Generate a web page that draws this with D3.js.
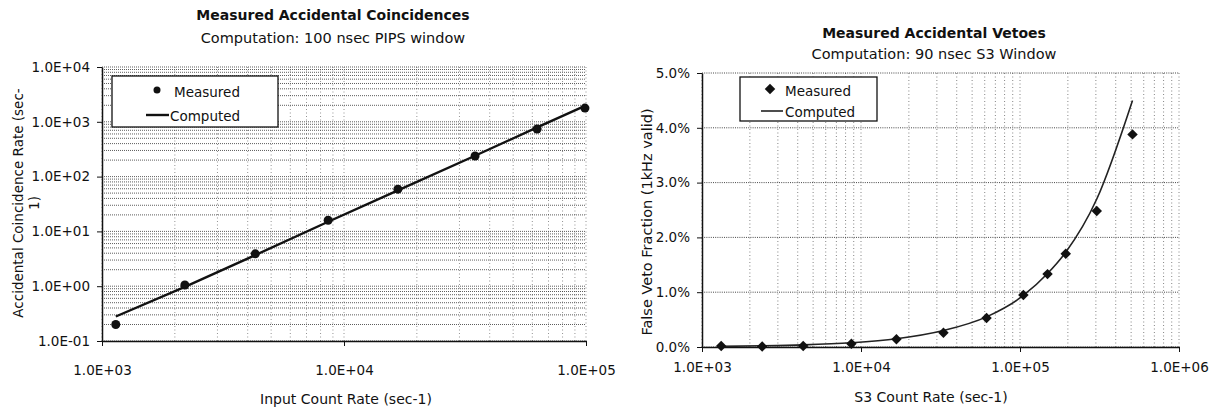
<!DOCTYPE html>
<html>
<head>
<meta charset="utf-8">
<script src="https://cdn.jsdelivr.net/npm/d3@7"></script>
<style>
  html, body { margin: 0; padding: 0; background: #fff; }
  svg { display: block; font-family: "DejaVu Sans", sans-serif; }
  text { fill: #111; }
</style>
</head>
<body>
<svg id="chart" width="1212" height="410"></svg>
<script>
// ---------- Left chart data ----------
const leftTitle = "Measured Accidental Coincidences";
const leftSubtitle = "Computation: 100 nsec PIPS window";
const leftXLabel = "Input Count Rate (sec-1)";
const leftYLabel1 = "Accidental Coincidence Rate (sec-";
const leftYLabel2 = "1)";
const leftInputRate = [1140, 2200, 4300, 8600, 16700, 34800, 62800, 99000];
const leftMeasured = [0.20, 1.05, 3.9, 16, 59, 238, 740, 1780];
const leftComputed = [0.28, 0.97, 3.7, 15, 56, 240, 790, 1960];
const leftXTicks = [1e3, 1e4, 1e5];
const leftXTickLabels = ["1.0E+03", "1.0E+04", "1.0E+05"];
const leftYTicks = [1e-1, 1e0, 1e1, 1e2, 1e3, 1e4];
const leftYTickLabels = ["1.0E-01", "1.0E+00", "1.0E+01", "1.0E+02", "1.0E+03", "1.0E+04"];

// ---------- Right chart data ----------
const rightTitle = "Measured Accidental Vetoes";
const rightSubtitle = "Computation: 90 nsec S3 Window";
const rightXLabel = "S3 Count Rate (sec-1)";
const rightYLabel = "False Veto Fraction (1kHz valid)";
const rightS3Rate = [1320, 2390, 4330, 8700, 16700, 33000, 61600, 105000, 149000, 194000, 304000, 510000];
const rightMeasured = [0.02, 0.01, 0.02, 0.06, 0.14, 0.26, 0.53, 0.95, 1.33, 1.70, 2.48, 3.88];
const rightComputed = [0.012, 0.022, 0.039, 0.078, 0.15, 0.30, 0.55, 0.94, 1.34, 1.73, 2.70, 4.50];
const rightXTicks = [1e3, 1e4, 1e5, 1e6];
const rightXTickLabels = ["1.0E+03", "1.0E+04", "1.0E+05", "1.0E+06"];
const rightYTicks = [0, 1, 2, 3, 4, 5];
const rightYTickLabels = ["0.0%", "1.0%", "2.0%", "3.0%", "4.0%", "5.0%"];
const legendLabels = ["Measured", "Computed"];

const svg = d3.select("#chart");
const ink = "#111";

// ================= LEFT CHART =================
const L = { left: 102, right: 586, top: 67, bottom: 341 };
const xL = d3.scaleLog().domain([1e3, 1e5]).range([L.left, L.right]);
const yL = d3.scaleLog().domain([1e-1, 1e4]).range([L.bottom, L.top]);
const gL = svg.append("g");

// grid
gL.append("g").selectAll("line").data(xL.ticks()).join("line")
  .attr("x1", d => xL(d)).attr("x2", d => xL(d))
  .attr("y1", L.top).attr("y2", L.bottom)
  .attr("stroke", "#777").attr("stroke-width", 0.8).attr("stroke-dasharray", "1,2.5");
gL.append("g").selectAll("line").data(yL.ticks()).join("line")
  .attr("x1", L.left).attr("x2", L.right)
  .attr("y1", d => yL(d)).attr("y2", d => yL(d))
  .attr("stroke", "#333").attr("stroke-width", 0.8).attr("stroke-dasharray", "1,1");

// axes
const axL = gL.append("g").attr("transform", `translate(${L.left},0)`)
  .call(d3.axisLeft(yL).tickValues(leftYTicks).tickFormat((d, i) => leftYTickLabels[i])
    .tickSize(5).tickPadding(7).tickSizeOuter(0));
const axB = gL.append("g").attr("transform", `translate(0,${L.bottom})`)
  .call(d3.axisBottom(xL).tickValues(leftXTicks).tickFormat((d, i) => leftXTickLabels[i])
    .tickSize(5).tickPadding(19).tickSizeOuter(0));
[axL, axB].forEach(a => {
  a.selectAll("text").attr("font-size", "13.5px").attr("fill", ink).attr("font-family", "DejaVu Sans");
  a.selectAll("line").attr("stroke", ink);
  a.select(".domain").attr("stroke", ink).attr("stroke-width", 1.5);
});

// computed line
gL.append("path")
  .datum(leftInputRate.map((x, i) => [x, leftComputed[i]]))
  .attr("fill", "none").attr("stroke", "#111").attr("stroke-width", 2.4)
  .attr("d", d3.line().x(d => xL(d[0])).y(d => yL(d[1])));
// measured points
gL.append("g").selectAll("circle")
  .data(leftInputRate.map((x, i) => [x, leftMeasured[i]])).join("circle")
  .attr("cx", d => xL(d[0])).attr("cy", d => yL(d[1])).attr("r", 4.5).attr("fill", "#111");

// titles
gL.append("text").attr("x", 333).attr("y", 20).attr("text-anchor", "middle")
  .attr("font-size", "14px").attr("font-weight", "bold").text(leftTitle);
gL.append("text").attr("x", 333).attr("y", 43).attr("text-anchor", "middle")
  .attr("font-size", "14.5px").text(leftSubtitle);
gL.append("text").attr("x", 346).attr("y", 404).attr("text-anchor", "middle")
  .attr("font-size", "14px").text(leftXLabel);
gL.append("text").attr("transform", "translate(23,203) rotate(-90)").attr("text-anchor", "middle")
  .attr("font-size", "13.5px").text(leftYLabel1);
gL.append("text").attr("transform", "translate(39,203) rotate(-90)").attr("text-anchor", "middle")
  .attr("font-size", "13.5px").text(leftYLabel2);

// legend
const lgL = gL.append("g");
lgL.append("rect").attr("x", 112).attr("y", 76).attr("width", 166).attr("height", 51)
  .attr("fill", "#fff").attr("stroke", ink).attr("stroke-width", 1.3);
lgL.append("circle").attr("cx", 157).attr("cy", 90).attr("r", 3.5).attr("fill", "#111");
lgL.append("text").attr("x", 174).attr("y", 97).attr("font-size", "13.5px").text(legendLabels[0]);
lgL.append("line").attr("x1", 146).attr("x2", 169).attr("y1", 115).attr("y2", 115)
  .attr("stroke", "#111").attr("stroke-width", 2.4);
lgL.append("text").attr("x", 170).attr("y", 121).attr("font-size", "13.5px").text(legendLabels[1]);

// ================= RIGHT CHART =================
const R = { left: 702, right: 1179, top: 73, bottom: 347 };
const xR = d3.scaleLog().domain([1e3, 1e6]).range([R.left, R.right]);
const yR = d3.scaleLinear().domain([0, 5]).range([R.bottom, R.top]);
const gR = svg.append("g");

gR.append("g").selectAll("line").data(xR.ticks()).join("line")
  .attr("x1", d => xR(d)).attr("x2", d => xR(d))
  .attr("y1", R.top).attr("y2", R.bottom)
  .attr("stroke", "#666").attr("stroke-width", 0.8).attr("stroke-dasharray", "1,2.5");
gR.append("g").selectAll("line").data(rightYTicks).join("line")
  .attr("x1", R.left).attr("x2", R.right)
  .attr("y1", d => yR(d)).attr("y2", d => yR(d))
  .attr("stroke", "#333").attr("stroke-width", 0.9).attr("stroke-dasharray", "1,1.2");

const axRL = gR.append("g").attr("transform", `translate(${R.left},0)`)
  .call(d3.axisLeft(yR).tickValues(rightYTicks).tickFormat((d, i) => rightYTickLabels[i])
    .tickSize(5).tickPadding(7).tickSizeOuter(0));
const axRB = gR.append("g").attr("transform", `translate(0,${R.bottom})`)
  .call(d3.axisBottom(xR).tickValues(rightXTicks).tickFormat((d, i) => rightXTickLabels[i])
    .tickSize(5).tickPadding(10).tickSizeOuter(0));
[axRL, axRB].forEach(a => {
  a.selectAll("text").attr("font-size", "13.5px").attr("fill", ink).attr("font-family", "DejaVu Sans");
  a.selectAll("line").attr("stroke", ink);
  a.select(".domain").attr("stroke", ink).attr("stroke-width", 1.5);
});

gR.append("path")
  .datum(rightS3Rate.map((x, i) => [x, rightComputed[i]]))
  .attr("fill", "none").attr("stroke", "#222").attr("stroke-width", 1.6)
  .attr("d", d3.line().curve(d3.curveMonotoneX).x(d => xR(d[0])).y(d => yR(d[1])));
const diamond = d3.symbol().type(d3.symbolDiamond2).size(70);
gR.append("g").selectAll("path")
  .data(rightS3Rate.map((x, i) => [x, rightMeasured[i]])).join("path")
  .attr("transform", d => `translate(${xR(d[0])},${yR(d[1])})`)
  .attr("d", diamond).attr("fill", "#111");

gR.append("text").attr("x", 934).attr("y", 38).attr("text-anchor", "middle")
  .attr("font-size", "14px").attr("font-weight", "bold").text(rightTitle);
gR.append("text").attr("x", 934).attr("y", 59).attr("text-anchor", "middle")
  .attr("font-size", "14.5px").text(rightSubtitle);
gR.append("text").attr("x", 931).attr("y", 402).attr("text-anchor", "middle")
  .attr("font-size", "14px").text(rightXLabel);
gR.append("text").attr("transform", "translate(652,222) rotate(-90)").attr("text-anchor", "middle")
  .attr("font-size", "14.5px").text(rightYLabel);

const lgR = gR.append("g");
lgR.append("rect").attr("x", 740).attr("y", 77).attr("width", 137).attr("height", 44)
  .attr("fill", "#fff").attr("stroke", ink).attr("stroke-width", 1.3);
lgR.append("path").attr("transform", "translate(770,89)").attr("d", diamond).attr("fill", "#111");
lgR.append("text").attr("x", 785).attr("y", 96).attr("font-size", "13.5px").text(legendLabels[0]);
lgR.append("line").attr("x1", 761).attr("x2", 783).attr("y1", 111).attr("y2", 111)
  .attr("stroke", "#222").attr("stroke-width", 1.6);
lgR.append("text").attr("x", 785).attr("y", 117).attr("font-size", "13.5px").text(legendLabels[1]);
</script>
</body>
</html>
